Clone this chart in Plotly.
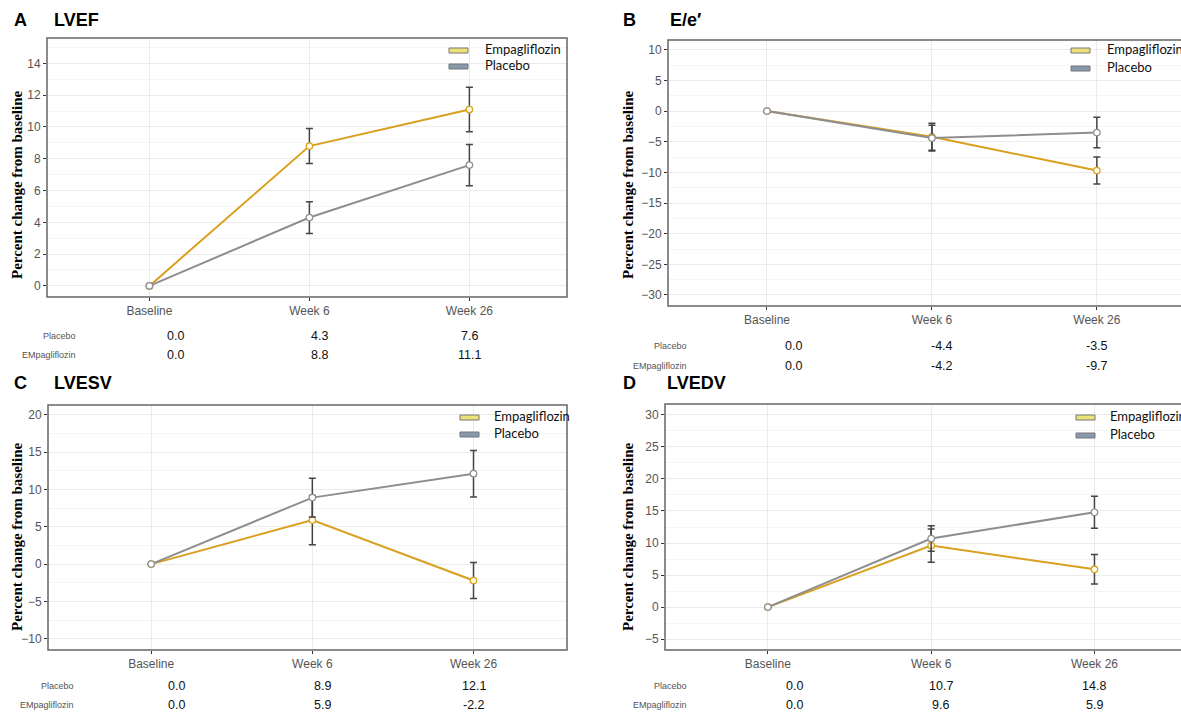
import plotly.graph_objects as go

W, H = 1181, 713

categories = ["Baseline", "Week 6", "Week 26"]

lvef_placebo = [0.0, 4.3, 7.6]
lvef_placebo_err = [0.0, 1.0, 1.3]
lvef_empa = [0.0, 8.8, 11.1]
lvef_empa_err = [0.0, 1.1, 1.4]

ee_placebo = [0.0, -4.4, -3.5]
ee_placebo_err = [0.0, 2.1, 2.5]
ee_empa = [0.0, -4.2, -9.7]
ee_empa_err = [0.0, 2.2, 2.2]

lvesv_placebo = [0.0, 8.9, 12.1]
lvesv_placebo_err = [0.0, 2.6, 3.1]
lvesv_empa = [0.0, 5.9, -2.2]
lvesv_empa_err = [0.0, 3.3, 2.4]

lvedv_placebo = [0.0, 10.7, 14.8]
lvedv_placebo_err = [0.0, 2.0, 2.5]
lvedv_empa = [0.0, 9.6, 5.9]
lvedv_empa_err = [0.0, 2.6, 2.3]

EMPA_COLOR = "#D9A01E"
PLAC_COLOR = "#8E8E8E"
ERR_COLOR = "#444444"


def px(x):
    return x / W


def py(y):
    return 1 - y / H


panels = [
    dict(letter="A", title="LVEF", box=(47, 567, 38, 297), xr=[0.36, 3.61], yr=[-0.7, 15.6], dtick=2,
         plac=lvef_placebo, plac_err=lvef_placebo_err, empa=lvef_empa, empa_err=lvef_empa_err,
         head=(12, 52, 20), leg=(449, 483, 49, 65), ytitle=(17, 185), table=(78, 336, 355), cut=False),
    dict(letter="B", title="E/e\u2032", box=(668, 1181, 40, 306), xr=[0.4, 3.51], yr=[-31.8, 11.6], dtick=5,
         plac=ee_placebo, plac_err=ee_placebo_err, empa=ee_empa, empa_err=ee_empa_err,
         head=(621, 668, 20), leg=(1071, 1105, 49, 67), ytitle=(628, 185), table=(689, 346, 366), cut=True),
    dict(letter="C", title="LVESV", box=(48, 567, 405, 650), xr=[0.36, 3.58], yr=[-11.5, 21.3], dtick=5,
         plac=lvesv_placebo, plac_err=lvesv_placebo_err, empa=lvesv_empa, empa_err=lvesv_empa_err,
         head=(12, 52, 383), leg=(460, 492, 416, 433), ytitle=(17, 537), table=(76, 686, 705), cut=False),
    dict(letter="D", title="LVEDV", box=(665, 1181, 404, 650), xr=[0.37, 3.53], yr=[-6.7, 31.7], dtick=5,
         plac=lvedv_placebo, plac_err=lvedv_placebo_err, empa=lvedv_empa, empa_err=lvedv_empa_err,
         head=(621, 665, 383), leg=(1076, 1108, 416, 434), ytitle=(628, 537), table=(689, 686, 705), cut=True),
]

table_pos = [1.16, 2.06, 3.0]

fig = go.Figure()
shapes = []
annotations = []


def err(arr):
    return [None if v == 0 else v for v in arr]


for i, p in enumerate(panels):
    n = i + 1
    xa = "x" if n == 1 else f"x{n}"
    ya = "y" if n == 1 else f"y{n}"
    xkey = "xaxis" if n == 1 else f"xaxis{n}"
    ykey = "yaxis" if n == 1 else f"yaxis{n}"
    bx0, bx1, by0, by1 = p["box"]
    xs = [1, 2, 3]

    fig.add_trace(go.Scatter(
        x=xs, y=p["empa"], xaxis=xa, yaxis=ya, mode="lines+markers", showlegend=False,
        line=dict(color=EMPA_COLOR, width=2),
        marker=dict(size=6.5, color="#FFFDE8", line=dict(color=EMPA_COLOR, width=1.2)),
        error_y=dict(type="data", array=err(p["empa_err"]), color=ERR_COLOR, thickness=1.5, width=3.5),
    ))
    fig.add_trace(go.Scatter(
        x=xs, y=p["plac"], xaxis=xa, yaxis=ya, mode="lines+markers", showlegend=False,
        line=dict(color=PLAC_COLOR, width=2),
        marker=dict(size=6.5, color="#FFFFFF", line=dict(color=PLAC_COLOR, width=1.2)),
        error_y=dict(type="data", array=err(p["plac_err"]), color=ERR_COLOR, thickness=1.5, width=3.5),
    ))

    fig.layout[xkey] = dict(
        domain=[px(bx0), min(1.0, px(bx1))], anchor=ya, range=p["xr"],
        tickvals=[1, 2, 3], ticktext=categories, showgrid=True, gridcolor="#EBEBEB", gridwidth=1,
        zeroline=False, showline=False, ticks="outside", ticklen=3, tickcolor="#333333",
        tickfont=dict(family="Liberation Sans, Arial", size=12, color="#555555"),
    )
    fig.layout[ykey] = dict(
        domain=[py(by1), py(by0)], anchor=xa, range=p["yr"], dtick=p["dtick"],
        showgrid=True, gridcolor="#EBEBEB", gridwidth=1, zeroline=False, showline=False,
        ticks="outside", ticklen=3, tickcolor="#333333",
        minor=dict(dtick=p["dtick"] / 2, showgrid=True, gridcolor="#F5F5F5", gridwidth=1),
        tickfont=dict(family="Liberation Sans, Arial", size=12, color="#555555"),
    )

    shapes.append(dict(type="rect", xref="paper", yref="paper",
                       x0=px(bx0), x1=px(bx1 + 20) if p["cut"] else px(bx1),
                       y0=py(by1), y1=py(by0), line=dict(color="#666666", width=1.5),
                       fillcolor="rgba(0,0,0,0)", layer="above"))

    hx_letter, hx_title, hy = p["head"]
    annotations.append(dict(text=f"<b>{p['letter']}</b>", x=px(hx_letter), y=py(hy), xref="paper", yref="paper",
                            xanchor="left", yanchor="middle", showarrow=False,
                            font=dict(family="Liberation Sans, Arial", size=18, color="#000000")))
    annotations.append(dict(text=f"<b>{p['title']}</b>", x=px(hx_title), y=py(hy), xref="paper", yref="paper",
                            xanchor="left", yanchor="middle", showarrow=False,
                            font=dict(family="Liberation Sans, Arial", size=18, color="#000000")))

    tx, ty = p["ytitle"]
    annotations.append(dict(text="<b>Percent change from baseline</b>", x=px(tx), y=py(ty), xref="paper",
                            yref="paper", textangle=-90, xanchor="center", yanchor="middle", showarrow=False,
                            font=dict(family="Liberation Serif, Times New Roman", size=15, color="#000000")))

    lx_rect, lx_text, ly1, ly2 = p["leg"]
    for (ly, fill, name) in [(ly1, "#EDE27A", "Empagliflozin"), (ly2, "#8899AE", "Placebo")]:
        shapes.append(dict(type="rect", xref="paper", yref="paper", x0=px(lx_rect), x1=px(lx_rect + 19),
                           y0=py(ly + 4), y1=py(ly - 1), fillcolor=fill, line=dict(color="#777777", width=1)))
        annotations.append(dict(text=name, x=px(lx_text), y=py(ly), xref="paper", yref="paper",
                                xanchor="left", yanchor="middle", showarrow=False,
                                font=dict(family="Lato, Open Sans", size=13, color="#111111")))

    lab_x, ty1, ty2 = p["table"]
    annotations.append(dict(text="Placebo", x=px(lab_x), y=py(ty1), xref="paper", yref="paper",
                            xanchor="right", yanchor="middle", showarrow=False,
                            font=dict(family="Liberation Sans, Arial", size=9, color="#555555")))
    annotations.append(dict(text="EMpagliflozin", x=px(lab_x), y=py(ty2), xref="paper", yref="paper",
                            xanchor="right", yanchor="middle", showarrow=False,
                            font=dict(family="Liberation Sans, Arial", size=9, color="#555555")))
    for k in range(3):
        annotations.append(dict(text=f"{p['plac'][k]:.1f}", x=table_pos[k], y=py(ty1), xref=xa, yref="paper",
                                xanchor="center", yanchor="middle", showarrow=False,
                                font=dict(family="Liberation Sans, Arial", size=12.5, color="#111111")))
        annotations.append(dict(text=f"{p['empa'][k]:.1f}", x=table_pos[k], y=py(ty2), xref=xa, yref="paper",
                                xanchor="center", yanchor="middle", showarrow=False,
                                font=dict(family="Liberation Sans, Arial", size=12.5, color="#111111")))

fig.update_layout(
    width=W, height=H, margin=dict(l=0, r=0, t=0, b=0),
    paper_bgcolor="white", plot_bgcolor="white",
    shapes=shapes, annotations=annotations, showlegend=False,
)

fig.write_html("out.html", config={"displayModeBar": False},
               post_script="document.body.style.margin='0';document.body.style.overflow='hidden';")
